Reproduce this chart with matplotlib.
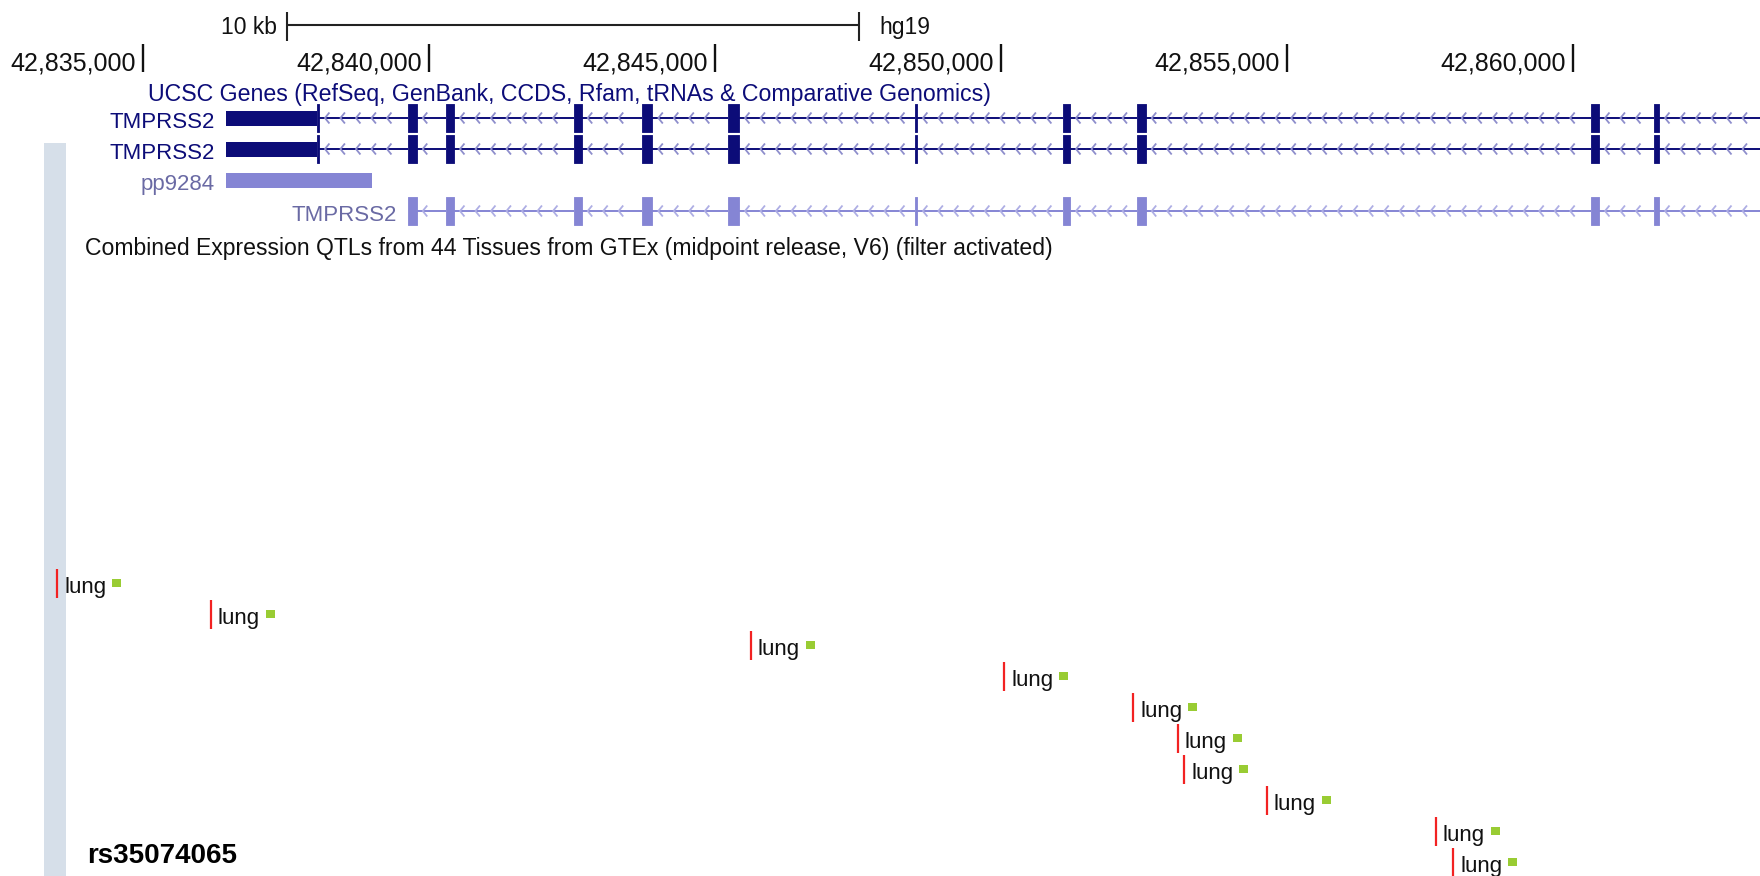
import matplotlib
matplotlib.use("Agg")
import matplotlib.pyplot as plt
import numpy as np
from matplotlib.collections import LineCollection
from matplotlib.patches import Rectangle

plt.rcParams["font.family"] = ["Liberation Sans", "DejaVu Sans"]

# ── browser window, hg19 chr21 ───────────────────────────────────────────────
WIN_START = 42832506
WIN_END = 42863265
WIDTH_PX, HEIGHT_PX = 1760, 876
BP_PER_PX = (WIN_END - WIN_START) / WIDTH_PX

AXIS_TICKS = [42835000, 42840000, 42845000, 42850000, 42855000, 42860000]
SCALE_BAR = (42837517, 42847517)
SCALE_LABEL = "10 kb"
ASSEMBLY = "hg19"

# ── TMPRSS2 (minus strand) ───────────────────────────────────────────────────
EXON_STARTS = [42836456, 42839642, 42840301, 42842538, 42843721, 42845234,
               42848497, 42851089, 42852372, 42860306, 42861417]
EXON_ENDS = [42838080, 42839789, 42840440, 42842672, 42843906, 42845421,
             42848530, 42851206, 42852529, 42860451, 42861500]
CDS_START = 42838050
PP9284 = (42836456, 42839002)

GENE_TRACK = "UCSC Genes (RefSeq, GenBank, CCDS, Rfam, tRNAs & Comparative Genomics)"
GENE_NAMES = ["TMPRSS2", "TMPRSS2", "pp9284", "TMPRSS2"]

# ── GTEx eQTLs ───────────────────────────────────────────────────────────────
EQTL_TRACK = ("Combined Expression QTLs from 44 Tissues from GTEx "
              "(midpoint release, V6) (filter activated)")
EQTL_POS = [42833508, 42836188, 42845631, 42850058, 42852312,
            42853088, 42853204, 42854643, 42857597, 42857904]
EQTL_TISSUE = ["lung"] * len(EQTL_POS)
SNP_ID = "rs35074065"

# ── colours ──────────────────────────────────────────────────────────────────
C_DARK = "#0c0c78"
C_DARK_CHEV = "#8e8ecc"
C_LIGHT = "#8585d4"
C_LIGHT_CHEV = "#aeaee4"
C_LIGHT_LABEL = "#6a6aa4"
C_SIDEBAR = "#d6dfe9"
C_SNP = "#f22222"
C_TISSUE = "#99cc33"


def px(x):
    """Horizontal layout offset in pixels -> bp."""
    return x * BP_PER_PX


def chevrons(ax, a, b, y, color):
    step, margin, w, h = px(15.5), px(6), px(4.5), 5.5
    segs = []
    for x in np.arange(a + margin, b - margin - w, step):
        segs.append([(x + w, y - h), (x, y), (x + w, y + h)])
    ax.add_collection(LineCollection(segs, colors=color, linewidths=1.3, zorder=2))


def gene(ax, starts, ends, y, color, chev, utr_to=None):
    for i, (s, e) in enumerate(zip(starts, ends)):
        if utr_to is not None and i == 0:
            ax.broken_barh([(s, utr_to - s)], (y - 7.5, 15), facecolors=color, zorder=3)
            s = utr_to
        ax.broken_barh([(s, e - s)], (y - 14, 28), facecolors=color,
                       edgecolors=color, linewidth=0.6, zorder=3)
    intr_a = list(ends)
    intr_b = list(starts[1:]) + [WIN_END]
    for a, b in zip(intr_a, intr_b):
        ax.hlines(y, a, b, color=color, lw=1.4, zorder=2)
        chevrons(ax, a, b, y, chev)


fig = plt.figure(figsize=(WIDTH_PX / 100, HEIGHT_PX / 100), dpi=100)
ax = fig.add_axes([0, 0, 1, 1])
ax.set_xlim(WIN_START, WIN_END)
ax.set_ylim(HEIGHT_PX, 0)
ax.axis("off")

# ── scale bar ────────────────────────────────────────────────────────────────
ax.hlines(24.5, *SCALE_BAR, color="#222222", lw=1.5)
ax.vlines(SCALE_BAR, 11.5, 40.5, color="#222222", lw=1.5)
ax.text(SCALE_BAR[0] - px(10), 34, SCALE_LABEL, ha="right", va="baseline",
        fontsize=16.5, color="#111111")
ax.text(SCALE_BAR[1] + px(20), 34, ASSEMBLY, ha="left", va="baseline",
        fontsize=16.5, color="#111111")

# ── base position ruler ──────────────────────────────────────────────────────
ax.vlines(AXIS_TICKS, 44, 71.5, color="#111111", lw=1.7)
for t in AXIS_TICKS:
    ax.text(t - px(7), 70, f"{t:,}", ha="right", va="baseline",
            fontsize=18, color="#111111")

# ── gene track ───────────────────────────────────────────────────────────────
ax.text(WIN_START + px(148), 100.5, GENE_TRACK, ha="left", va="baseline",
        fontsize=16.7, color=C_DARK)

rows = [118, 149, 180, 211]
gene(ax, EXON_STARTS, EXON_ENDS, rows[0], C_DARK, C_DARK_CHEV, CDS_START)
gene(ax, EXON_STARTS, EXON_ENDS, rows[1], C_DARK, C_DARK_CHEV, CDS_START)
ax.broken_barh([(PP9284[0], PP9284[1] - PP9284[0])], (rows[2] - 7.5, 15),
               facecolors=C_LIGHT, zorder=3)
gene(ax, EXON_STARTS[1:], EXON_ENDS[1:], rows[3], C_LIGHT, C_LIGHT_CHEV)

label_x = [EXON_STARTS[0], EXON_STARTS[0], PP9284[0], EXON_STARTS[1]]
label_c = [C_DARK, C_DARK, C_LIGHT_LABEL, C_LIGHT_LABEL]
for name, x, y, c in zip(GENE_NAMES, label_x, rows, label_c):
    ax.text(x - px(11), y + 10, name, ha="right", va="baseline",
            fontsize=16, color=c)

# ── eQTL track ───────────────────────────────────────────────────────────────
ax.add_patch(Rectangle((WIN_START + px(44), 143), px(22), HEIGHT_PX - 143,
                       facecolor=C_SIDEBAR, edgecolor="none", zorder=0))
ax.text(WIN_START + px(85), 255, EQTL_TRACK, ha="left", va="baseline",
        fontsize=16.6, color="#111111")

for i, (pos, tissue) in enumerate(zip(EQTL_POS, EQTL_TISSUE)):
    y = 583 + 31 * i
    ax.vlines(pos, y - 14.5, y + 14.5, color=C_SNP, lw=1.6, zorder=3)
    ax.text(pos + px(7), y + 10, tissue, ha="left", va="baseline",
            fontsize=16, color="#111111", zorder=3)
    ax.add_patch(Rectangle((pos + px(55), y - 4), px(9), 8,
                           facecolor=C_TISSUE, edgecolor="none", zorder=3))

ax.text(WIN_START + px(87), 863, SNP_ID, ha="left", va="baseline",
        fontsize=20, fontweight="bold", color="black")

fig.savefig("out.png", dpi=100)
